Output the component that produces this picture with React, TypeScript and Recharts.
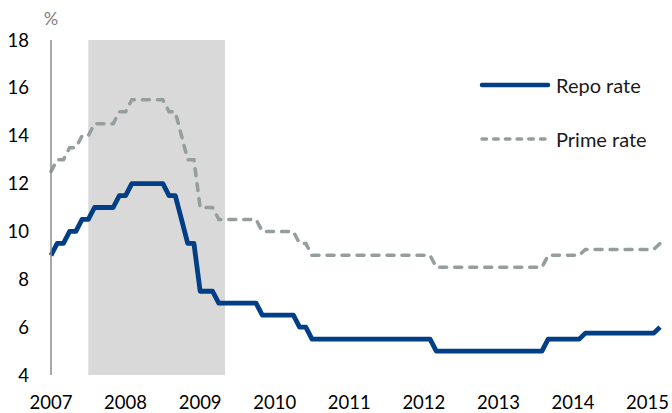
import React from 'react';
import { LineChart, Line, XAxis, YAxis, ReferenceArea, Legend } from 'recharts';

// monthly values, Jan 2007 .. Mar 2015 (one row per year)
const repoRate = [
  9, 9.5, 9.5, 10, 10, 10.5, 10.5, 11, 11, 11, 11, 11.5,
  11.5, 12, 12, 12, 12, 12, 12, 11.5, 11.5, 10.5, 9.5, 9.5,
  7.5, 7.5, 7.5, 7, 7, 7, 7, 7, 7, 7, 6.5, 6.5,
  6.5, 6.5, 6.5, 6.5, 6, 6, 5.5, 5.5, 5.5, 5.5, 5.5, 5.5,
  5.5, 5.5, 5.5, 5.5, 5.5, 5.5, 5.5, 5.5, 5.5, 5.5, 5.5, 5.5,
  5.5, 5.5, 5, 5, 5, 5, 5, 5, 5, 5, 5, 5,
  5, 5, 5, 5, 5, 5, 5, 5, 5.5, 5.5, 5.5, 5.5,
  5.5, 5.5, 5.75, 5.75, 5.75, 5.75, 5.75, 5.75, 5.75, 5.75, 5.75, 5.75,
  5.75, 5.75, 6,
];

const primeRate = [
  12.5, 13, 13, 13.5, 13.5, 14, 14, 14.5, 14.5, 14.5, 14.5, 15,
  15, 15.5, 15.5, 15.5, 15.5, 15.5, 15.5, 15, 15, 14, 13, 13,
  11, 11, 11, 10.5, 10.5, 10.5, 10.5, 10.5, 10.5, 10.5, 10, 10,
  10, 10, 10, 10, 9.5, 9.5, 9, 9, 9, 9, 9, 9,
  9, 9, 9, 9, 9, 9, 9, 9, 9, 9, 9, 9,
  9, 9, 8.5, 8.5, 8.5, 8.5, 8.5, 8.5, 8.5, 8.5, 8.5, 8.5,
  8.5, 8.5, 8.5, 8.5, 8.5, 8.5, 8.5, 8.5, 9, 9, 9, 9,
  9, 9, 9.25, 9.25, 9.25, 9.25, 9.25, 9.25, 9.25, 9.25, 9.25, 9.25,
  9.25, 9.25, 9.5,
];

const yearLabels = ['2007', '2008', '2009', '2010', '2011', '2012', '2013', '2014', '2015'];
const yTicks = [4, 6, 8, 10, 12, 14, 16, 18];
// shaded period, in months from Jan 2007
const shadeStart = 6;
const shadeEnd = 28;

const FONT = 'Lato, "Open Sans", sans-serif';
const REPO_COLOR = '#003E85';
const PRIME_COLOR = '#959D9E';

const data = repoRate.map((r, i) => ({ m: i, repo: r, prime: primeRate[i] }));
const xTicks = yearLabels.map((_, i) => i * 12);

const legendItems = [
  { name: 'Repo rate', color: REPO_COLOR, width: 4.5, dash: undefined },
  { name: 'Prime rate', color: PRIME_COLOR, width: 3.5, dash: '4.5 7.2' },
];

function LegendBox() {
  return (
    <div style={{ fontFamily: FONT, fontSize: 20, color: '#1a1a1a' }}>
      {legendItems.map((it, i) => (
        <div key={it.name} style={{ display: 'flex', alignItems: 'center', height: 24, marginBottom: i === 0 ? 30 : 0 }}>
          <svg width={74} height={10}>
            <line x1={4} y1={5} x2={70} y2={5} stroke={it.color} strokeWidth={it.width} strokeLinecap="round" strokeDasharray={it.dash} />
          </svg>
          <span style={{ marginLeft: 4, whiteSpace: 'nowrap' }}>{it.name}</span>
        </div>
      ))}
    </div>
  );
}

function PercentLabel(props: any) {
  const vb = props.viewBox || {};
  return (
    <text x={vb.x + vb.width} y={vb.y - 15} textAnchor="middle" fill="#808080" fontSize={18} fontFamily={FONT}>
      %
    </text>
  );
}

export default function App() {
  return (
    <div style={{ position: 'absolute', left: 0, top: 0, width: 672, height: 413, background: '#fff' }}>
      <LineChart width={672} height={413} data={data} margin={{ top: 40, right: 12, left: 0, bottom: 8 }}>
        <ReferenceArea x1={shadeStart} x2={shadeEnd} y1={4} y2={18} fill="#D9D9D9" fillOpacity={1} stroke="none" ifOverflow="visible" />
        <XAxis
          type="number"
          dataKey="m"
          domain={[0, repoRate.length - 1]}
          ticks={xTicks}
          tickFormatter={(v: number) => yearLabels[Math.round(v / 12)]}
          axisLine={false}
          tickLine={false}
          tickMargin={15}
          height={30}
          interval={0}
          tick={{ fill: '#000', fontSize: 18.5, fontFamily: FONT }}
        />
        <YAxis
          domain={[4, 18]}
          ticks={yTicks}
          width={51}
          axisLine={{ stroke: '#8C8C8C', strokeWidth: 1.5 }}
          tickLine={false}
          tickMargin={16}
          interval={0}
          tick={{ fill: '#000', fontSize: 18.5, fontFamily: FONT }}
          label={{ content: PercentLabel }}
        />
        <Line type="linear" dataKey="prime" name="Prime rate" stroke={PRIME_COLOR} strokeWidth={3.5} strokeDasharray="7 8" strokeLinecap="round" dot={false} isAnimationActive={false} />
        <Line type="linear" dataKey="repo" name="Repo rate" stroke={REPO_COLOR} strokeWidth={4.8} strokeLinejoin="round" dot={false} isAnimationActive={false} />
        <Legend
          layout="horizontal"
          verticalAlign="middle"
          align="center"
          content={<LegendBox />}
          wrapperStyle={{ position: 'absolute', top: 73, left: 478, width: 'auto' }}
        />
      </LineChart>
    </div>
  );
}
